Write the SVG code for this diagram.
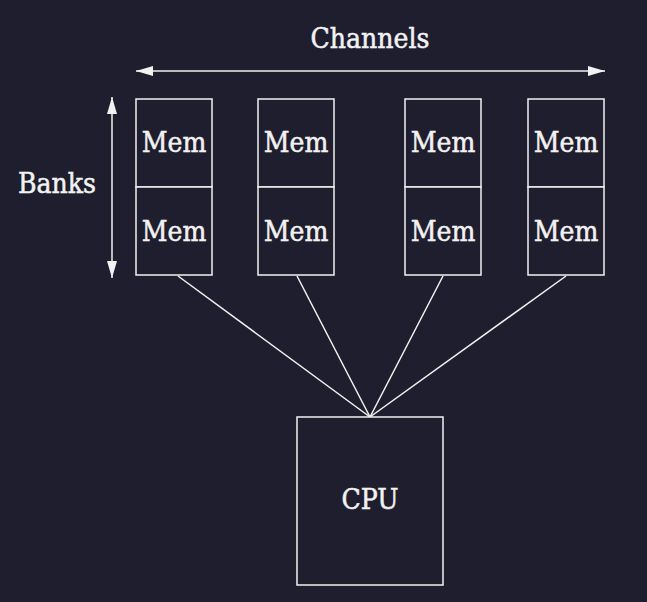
<svg xmlns="http://www.w3.org/2000/svg" width="647" height="602" viewBox="0 0 647 602">
<style>
.box{fill:#1e1e2e;stroke:#f2f2f2;stroke-width:1.5}
.lbl{font-family:"DejaVu Serif Condensed","DejaVu Serif",serif;font-size:28px;fill:#f2f2f2;stroke:#f2f2f2;stroke-width:0.5;text-anchor:middle}
.conn{stroke:#f2f2f2;stroke-width:1.5;fill:none}
</style>
<defs>
<marker id="ah" viewBox="0 0 17 10" refX="17" refY="5" markerWidth="17" markerHeight="10" markerUnits="userSpaceOnUse" orient="auto-start-reverse">
<path d="M0,0 L17,5 L0,10 Z" fill="#f2f2f2"/>
</marker>
</defs>
<rect width="647" height="602" fill="#1e1e2e"/>
<g id="connectors">
<line class="conn" x1="136" y1="71" x2="605" y2="71" marker-start="url(#ah)" marker-end="url(#ah)"/>
<line class="conn" x1="112" y1="97" x2="112" y2="278" marker-start="url(#ah)" marker-end="url(#ah)"/>
<line class="conn" x1="178" y1="276" x2="370" y2="417"/>
<line class="conn" x1="297" y1="276" x2="370" y2="417"/>
<line class="conn" x1="443" y1="276" x2="370" y2="417"/>
<line class="conn" x1="566" y1="276" x2="370" y2="417"/>
</g>
<g id="channels-label"><text class="lbl" x="370" y="48">Channels</text></g>
<g id="banks-label"><text class="lbl" x="57" y="193">Banks</text></g>
<g id="mem-1-1"><rect class="box" x="136" y="99" width="76" height="88"/><text class="lbl" x="174" y="152">Mem</text></g>
<g id="mem-1-2"><rect class="box" x="136" y="187" width="76" height="88"/><text class="lbl" x="174" y="241">Mem</text></g>
<g id="mem-2-1"><rect class="box" x="258" y="99" width="76" height="88"/><text class="lbl" x="296" y="152">Mem</text></g>
<g id="mem-2-2"><rect class="box" x="258" y="187" width="76" height="88"/><text class="lbl" x="296" y="241">Mem</text></g>
<g id="mem-3-1"><rect class="box" x="405" y="99" width="76" height="88"/><text class="lbl" x="443" y="152">Mem</text></g>
<g id="mem-3-2"><rect class="box" x="405" y="187" width="76" height="88"/><text class="lbl" x="443" y="241">Mem</text></g>
<g id="mem-4-1"><rect class="box" x="528" y="99" width="76" height="88"/><text class="lbl" x="566" y="152">Mem</text></g>
<g id="mem-4-2"><rect class="box" x="528" y="187" width="76" height="88"/><text class="lbl" x="566" y="241">Mem</text></g>
<g id="cpu"><rect class="box" x="297" y="417" width="146" height="168"/><text class="lbl" x="370" y="509">CPU</text></g>
</svg>
